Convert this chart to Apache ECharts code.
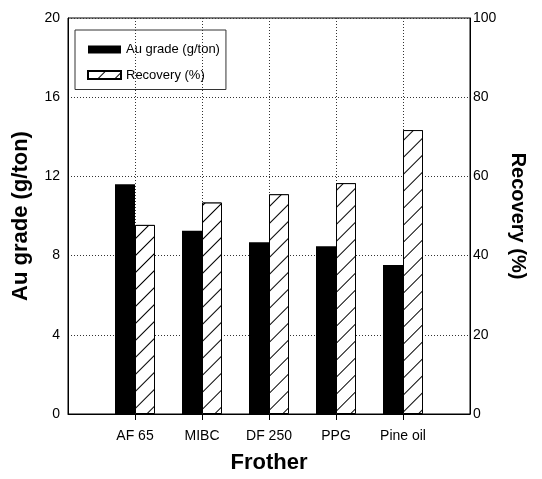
<!DOCTYPE html>
<html>
<head>
<meta charset="utf-8">
<script src="https://cdn.jsdelivr.net/npm/echarts@6/dist/echarts.min.js"></script>
<style>html,body{margin:0;padding:0;background:#fff;}#c{width:542px;height:479px;}</style>
</head>
<body>
<div id="c"></div>
<script>
var categories = ['AF 65', 'MIBC', 'DF 250', 'PPG', 'Pine oil'];
var auGrade = [11.6, 9.25, 8.67, 8.47, 7.53];
var recovery = [47.75, 53.4, 55.5, 58.3, 71.7];
var leftTicks = [0, 4, 8, 12, 16, 20];
var rightTicks = [0, 20, 40, 60, 80, 100];

var FONT = 'Liberation Sans, Arial, sans-serif';
var cats = [''].concat(categories).concat(['']);
var pad = function (a) { return [null].concat(a).concat([null]); };
var inner = function (i) { return i > 0 && i < cats.length - 1; };

var chart = echarts.init(document.getElementById('c'), null, {renderer: 'canvas'});
chart.setOption({
  animation: false,
  backgroundColor: '#fff',
  textStyle: {fontFamily: FONT},
  grid: {left: 68, right: 72, top: 18, bottom: 61, show: true, borderColor: '#000', borderWidth: 1, backgroundColor: 'transparent'},
  legend: {
    orient: 'vertical', left: 75, top: 30,
    padding: [13, 6, 8, 12],
    borderColor: '#333', borderWidth: 1,
    itemWidth: 33, itemHeight: 8, itemGap: 12.5,
    icon: 'rect',
    textStyle: {fontFamily: FONT, fontSize: 13, color: '#000'},
    data: ['Au grade (g/ton)', 'Recovery (%)']
  },
  xAxis: {
    type: 'category', data: cats, boundaryGap: false,
    axisLine: {lineStyle: {color: '#000', width: 1}},
    axisTick: {show: true, length: 6, inside: false, interval: function (i) { return inner(i); }, lineStyle: {color: '#000'}},
    axisLabel: {fontSize: 14, color: '#000', margin: 15, fontFamily: FONT, interval: 0},
    splitLine: {show: true, interval: function (i) { return inner(i); }, lineStyle: {type: [1, 2], color: '#333', width: 1}},
    name: 'Frother', nameLocation: 'middle', nameGap: 38,
    nameTextStyle: {fontSize: 22, fontWeight: 'bold', color: '#000', fontFamily: FONT}
  },
  yAxis: [{
    type: 'value', min: leftTicks[0], max: leftTicks[leftTicks.length - 1], interval: leftTicks[1] - leftTicks[0],
    axisLine: {show: true, lineStyle: {color: '#000', width: 1}},
    axisTick: {show: false},
    axisLabel: {fontSize: 14, color: '#000', margin: 8, fontFamily: FONT},
    splitLine: {show: true, lineStyle: {type: [1, 2], color: '#333', width: 1}},
    name: 'Au grade (g/ton)', nameLocation: 'middle', nameGap: 36,
    nameTextStyle: {fontSize: 22, fontWeight: 'bold', color: '#000', fontFamily: FONT}
  }, {
    type: 'value', position: 'right', min: rightTicks[0], max: rightTicks[rightTicks.length - 1], interval: rightTicks[1] - rightTicks[0],
    axisLine: {show: true, lineStyle: {color: '#000', width: 1}},
    axisTick: {show: false},
    axisLabel: {fontSize: 14, color: '#000', margin: 3, fontFamily: FONT},
    splitLine: {show: false},
    name: 'Recovery (%)', nameLocation: 'middle', nameGap: 37, nameRotate: -90,
    nameTextStyle: {fontSize: 20, fontWeight: 'bold', color: '#000', fontFamily: FONT}
  }],
  series: [{
    name: 'Au grade (g/ton)', type: 'bar', yAxisIndex: 0, data: pad(auGrade),
    barWidth: 20, barGap: '0%',
    itemStyle: {color: '#000'}
  }, {
    name: 'Recovery (%)', type: 'bar', yAxisIndex: 1, data: pad(recovery),
    barWidth: 20, barGap: '0%',
    itemStyle: {
      color: '#fff', borderColor: '#000', borderWidth: 1,
      decal: {symbol: 'rect', symbolSize: 1, color: '#000', backgroundColor: '#fff', dashArrayX: [1, 0], dashArrayY: [1, 11], rotation: -Math.PI / 4}
    }
  }]
});
</script>
</body>
</html>
